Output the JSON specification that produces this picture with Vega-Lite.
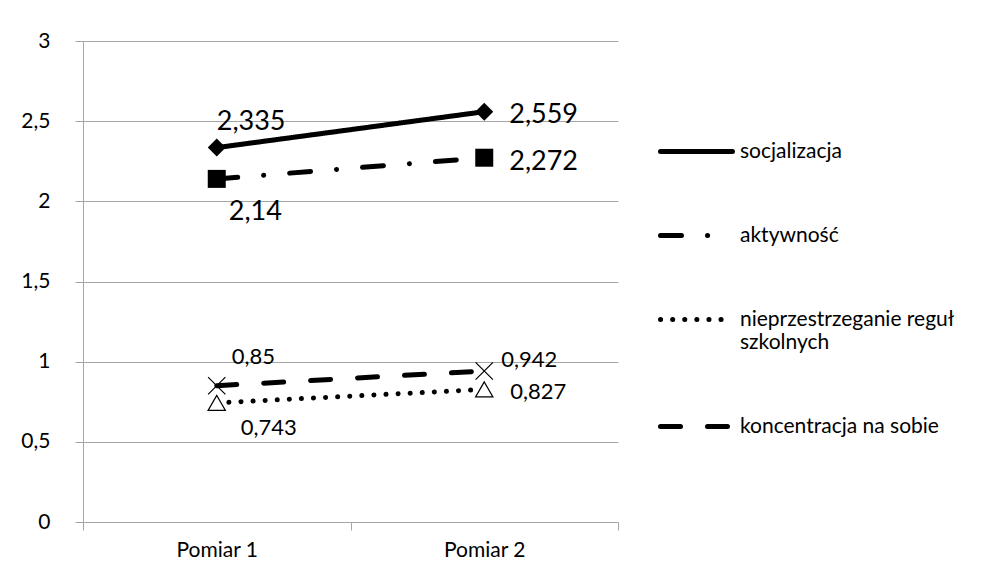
{
  "$schema": "https://vega.github.io/schema/vega-lite/v6.json",
  "width": 535,
  "height": 481,
  "autosize": {"type": "none"},
  "padding": {"left": 83, "top": 41, "right": 366, "bottom": 61},
  "background": "white",
  "config": {
    "view": {"stroke": null},
    "font": "Lato",
    "text": {"font": "Lato", "color": "black"},
    "legend": {"labelFont": "Lato"},
    "axis": {"labelFont": "Lato", "labelColor": "black"}
  },
  "data": {
    "values": [
      {"series": "socjalizacja", "pomiar": "Pomiar 1", "value": 2.335, "label": "2,335"},
      {"series": "socjalizacja", "pomiar": "Pomiar 2", "value": 2.559, "label": "2,559"},
      {"series": "aktywność", "pomiar": "Pomiar 1", "value": 2.14, "label": "2,14"},
      {"series": "aktywność", "pomiar": "Pomiar 2", "value": 2.272, "label": "2,272"},
      {"series": "nieprzestrzeganie reguł szkolnych", "pomiar": "Pomiar 1", "value": 0.743, "label": "0,743"},
      {"series": "nieprzestrzeganie reguł szkolnych", "pomiar": "Pomiar 2", "value": 0.827, "label": "0,827"},
      {"series": "koncentracja na sobie", "pomiar": "Pomiar 1", "value": 0.85, "label": "0,85"},
      {"series": "koncentracja na sobie", "pomiar": "Pomiar 2", "value": 0.942, "label": "0,942"}
    ]
  },
  "encoding": {
    "x": {
      "field": "pomiar",
      "type": "nominal",
      "scale": {"type": "band", "paddingInner": 0, "paddingOuter": 0},
      "axis": {
        "title": null,
        "labelAngle": 0,
        "tickBand": "extent",
        "grid": false,
        "domainColor": "#a6a6a6",
        "tickColor": "#a6a6a6",
        "tickSize": 8,
        "labelPadding": 9,
        "labelFontSize": 21
      }
    },
    "y": {
      "field": "value",
      "type": "quantitative",
      "scale": {"domain": [0, 3], "nice": false},
      "axis": {
        "title": null,
        "values": [0, 0.5, 1, 1.5, 2, 2.5, 3],
        "labelExpr": "replace(format(datum.value, '~g'), '.', ',')",
        "grid": true,
        "gridColor": "#a6a6a6",
        "domainColor": "#a6a6a6",
        "tickColor": "#a6a6a6",
        "tickSize": 8,
        "labelPadding": 25,
        "labelFontSize": 21
      }
    }
  },
  "layer": [
    {
      "mark": {"type": "line", "color": "black", "strokeWidth": 5, "strokeCap": "round"},
      "encoding": {
        "detail": {"field": "series"},
        "strokeDash": {
          "field": "series",
          "type": "nominal",
          "scale": {
            "domain": ["socjalizacja", "aktywność", "nieprzestrzeganie reguł szkolnych", "koncentracja na sobie"],
            "range": [[1, 0], [21, 26, 0.1, 26], [0.1, 12], [20, 27]]
          },
          "legend": {
            "title": null,
            "orient": "none",
            "legendX": 575,
            "legendY": 72,
            "padding": 0,
            "symbolType": "stroke",
            "symbolSize": 5184,
            "symbolStrokeWidth": 5,
            "symbolStrokeColor": "black",
            "labelFontSize": 21,
            "labelColor": "black",
            "labelOffset": 5,
            "rowPadding": 35,
            "labelLimit": 300,
            "labelExpr": "datum.label == 'nieprzestrzeganie reguł szkolnych' ? ['nieprzestrzeganie reguł', 'szkolnych'] : datum.label",
            "encode": {"symbols": {"update": {"strokeCap": {"value": "round"}}}}
          }
        }
      }
    },
    {
      "transform": [{"filter": "datum.series == 'socjalizacja'"}],
      "mark": {"type": "point", "shape": "diamond", "filled": true, "color": "black", "opacity": 1, "size": 324}
    },
    {
      "transform": [{"filter": "datum.series == 'aktywność'"}],
      "mark": {"type": "point", "shape": "square", "filled": true, "color": "black", "opacity": 1, "size": 324}
    },
    {
      "transform": [{"filter": "datum.series == 'nieprzestrzeganie reguł szkolnych'"}],
      "mark": {"type": "point", "shape": "triangle-up", "filled": true, "fill": "white", "stroke": "black", "strokeWidth": 1.2, "opacity": 1, "size": 300}
    },
    {
      "transform": [{"filter": "datum.series == 'koncentracja na sobie'"}],
      "mark": {"type": "point", "shape": "M-1,-1L1,1M-1,1L1,-1", "filled": false, "stroke": "black", "strokeWidth": 1.2, "opacity": 1, "size": 300}
    },
    {
      "transform": [{"filter": "datum.series == 'socjalizacja' && datum.pomiar == 'Pomiar 1'"}],
      "mark": {"type": "text", "align": "left", "baseline": "middle", "dx": 0, "dy": -26, "fontSize": 27},
      "encoding": {"text": {"field": "label"}}
    },
    {
      "transform": [{"filter": "datum.series == 'socjalizacja' && datum.pomiar == 'Pomiar 2'"}],
      "mark": {"type": "text", "align": "left", "baseline": "middle", "dx": 25, "dy": 3, "fontSize": 27},
      "encoding": {"text": {"field": "label"}}
    },
    {
      "transform": [{"filter": "datum.series == 'aktywność' && datum.pomiar == 'Pomiar 1'"}],
      "mark": {"type": "text", "align": "left", "baseline": "middle", "dx": 12, "dy": 33, "fontSize": 27},
      "encoding": {"text": {"field": "label"}}
    },
    {
      "transform": [{"filter": "datum.series == 'aktywność' && datum.pomiar == 'Pomiar 2'"}],
      "mark": {"type": "text", "align": "left", "baseline": "middle", "dx": 25, "dy": 4, "fontSize": 27},
      "encoding": {"text": {"field": "label"}}
    },
    {
      "transform": [{"filter": "datum.series == 'koncentracja na sobie' && datum.pomiar == 'Pomiar 1'"}],
      "mark": {"type": "text", "align": "left", "baseline": "middle", "dx": 15, "dy": -29, "fontSize": 22},
      "encoding": {"text": {"field": "label"}}
    },
    {
      "transform": [{"filter": "datum.series == 'koncentracja na sobie' && datum.pomiar == 'Pomiar 2'"}],
      "mark": {"type": "text", "align": "left", "baseline": "middle", "dx": 17, "dy": -11, "fontSize": 22},
      "encoding": {"text": {"field": "label"}}
    },
    {
      "transform": [{"filter": "datum.series == 'nieprzestrzeganie reguł szkolnych' && datum.pomiar == 'Pomiar 1'"}],
      "mark": {"type": "text", "align": "left", "baseline": "middle", "dx": 24, "dy": 25, "fontSize": 22},
      "encoding": {"text": {"field": "label"}}
    },
    {
      "transform": [{"filter": "datum.series == 'nieprzestrzeganie reguł szkolnych' && datum.pomiar == 'Pomiar 2'"}],
      "mark": {"type": "text", "align": "left", "baseline": "middle", "dx": 26, "dy": 3, "fontSize": 22},
      "encoding": {"text": {"field": "label"}}
    }
  ]
}
